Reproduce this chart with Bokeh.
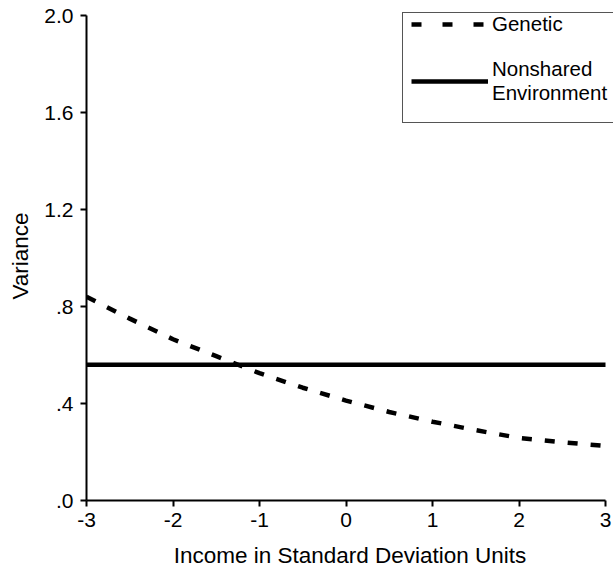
from bokeh.plotting import figure
from bokeh.models import Range1d, FixedTicker, Legend, LegendItem, BoxAnnotation
from bokeh.embed import file_html
from bokeh.resources import INLINE

# Data
income = [-3, -2.5, -2, -1.5, -1, -0.5, 0, 0.5, 1, 1.5, 2, 2.5, 3]
genetic = [0.84, 0.75, 0.665, 0.595, 0.525, 0.465, 0.412, 0.365, 0.325, 0.29, 0.258, 0.24, 0.225]
nonshared_x = [-3, 3]
nonshared = [0.56, 0.56]
x_ticks = [-3, -2, -1, 0, 1, 2, 3]
x_tick_labels = ["-3", "-2", "-1", "0", "1", "2", "3"]
y_ticks = [0, 0.4, 0.8, 1.2, 1.6, 2.0]
y_tick_labels = [".0", ".4", ".8", "1.2", "1.6", "2.0"]
series_names = ["Genetic", "Nonshared\nEnvironment"]

FONT = "Liberation Sans"

# axis extents; the plotting frame is slightly larger so the legend box fits
X_MIN, X_MAX = -3, 3
Y_MIN, Y_MAX = 0, 2.0
X_PAD = 8 / 86.5     # frame continues to the page edge beyond x = 3
Y_PAD = 4 / 242.5    # frame starts a few px above y = 2.0

p = figure(width=613, height=572, output_backend="svg", toolbar_location=None,
           x_range=Range1d(X_MIN, X_MAX + X_PAD), y_range=Range1d(Y_MIN, Y_MAX + Y_PAD),
           min_border_left=86, min_border_right=0, min_border_top=11, min_border_bottom=72)
p.outline_line_color = None
p.grid.grid_line_color = None

r1 = p.line(income, genetic, line_color="black", line_width=4.5, line_dash="10 13")
r2 = p.line(nonshared_x, nonshared, line_color="black", line_width=4.5)
# legend key style for the dashed series (no visible data of its own)
nan = float("nan")
lg1 = p.line([nan], [nan], line_color="black", line_width=4.5, line_dash="10 21")

for ax in (p.xaxis[0], p.yaxis[0]):
    ax.axis_line_width = 2
    ax.axis_line_color = "black"
    ax.major_tick_line_width = 2
    ax.major_tick_line_color = "black"
    ax.major_tick_out = 6
    ax.major_tick_in = 0
    ax.minor_tick_line_color = None
    ax.major_label_text_font = FONT
    ax.major_label_text_font_size = "21px"
    ax.major_label_text_color = "black"
    ax.axis_label_text_font = FONT
    ax.axis_label_text_font_size = "22.5px"
    ax.axis_label_text_font_style = "normal"
    ax.axis_label_text_color = "black"

p.xaxis.bounds = (X_MIN, X_MAX)
p.yaxis.bounds = (Y_MIN, Y_MAX)
p.xaxis.ticker = FixedTicker(ticks=x_ticks)
p.yaxis.ticker = FixedTicker(ticks=y_ticks)
p.xaxis.major_label_overrides = {t: l for t, l in zip(x_ticks, x_tick_labels)}
p.yaxis.major_label_overrides = {t: l for t, l in zip(y_ticks, y_tick_labels)}
p.yaxis.major_label_orientation = "horizontal"
p.xaxis.axis_label = "Income in Standard Deviation Units"
p.yaxis.axis_label = "Variance"
p.xaxis.major_label_standoff = 6
p.yaxis.major_label_standoff = 7
p.xaxis.axis_label_standoff = 13
p.yaxis.axis_label_standoff = 8

# legend frame: white panel with left, top and bottom edges (right edge off-page)
BORDER = "#555555"
def canvas_box(l, r, t, b, **kw):
    return BoxAnnotation(left=l, right=r, top=t, bottom=b,
                         left_units="canvas", right_units="canvas",
                         top_units="canvas", bottom_units="canvas",
                         line_color=None, fill_alpha=1, **kw)
p.add_layout(canvas_box(402, 640, 12, 122, fill_color="white"))
p.add_layout(canvas_box(402, 640, 11.5, 12.5, fill_color=BORDER))
p.add_layout(canvas_box(402, 640, 121.5, 122.5, fill_color=BORDER))
p.add_layout(canvas_box(401.5, 402.5, 11.5, 122.5, fill_color=BORDER))

legend = Legend(items=[LegendItem(label=series_names[0], renderers=[lg1]),
                       LegendItem(label=series_names[1], renderers=[r2])],
                location=(325, 395))
legend.label_text_font = FONT
legend.label_text_font_size = "20.5px"
legend.label_text_color = "black"
legend.glyph_width = 77
legend.glyph_height = 20
legend.label_standoff = 4
legend.padding = 0
legend.spacing = 21
legend.margin = 0
legend.border_line_color = None
legend.background_fill_alpha = 0
p.add_layout(legend)

open("out.html", "w").write(file_html(p, INLINE))
